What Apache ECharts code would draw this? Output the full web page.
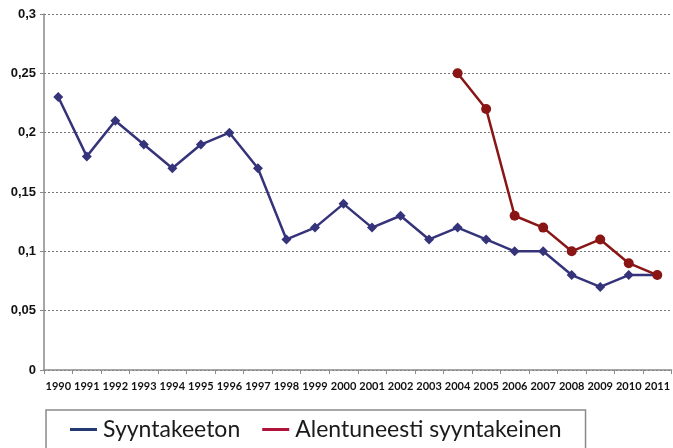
<!DOCTYPE html>
<html><head><meta charset="utf-8">
<script src="https://cdn.jsdelivr.net/npm/echarts@6/dist/echarts.min.js"></script>
<style>html,body{margin:0;padding:0;background:#fff}#c{width:673px;height:448px}</style>
</head><body><div id="c"></div>
<script>
const years = ['1990','1991','1992','1993','1994','1995','1996','1997','1998','1999','2000','2001','2002','2003','2004','2005','2006','2007','2008','2009','2010','2011'];
const syyntakeeton = [0.23,0.18,0.21,0.19,0.17,0.19,0.20,0.17,0.11,0.12,0.14,0.12,0.13,0.11,0.12,0.11,0.10,0.10,0.08,0.07,0.08,0.08];
const alentuneesti = [null,null,null,null,null,null,null,null,null,null,null,null,null,null,0.25,0.22,0.13,0.12,0.10,0.11,0.09,0.08];
const yTicks = [0,0.05,0.1,0.15,0.2,0.25,0.3];
const seriesNames = ['Syyntakeeton','Alentuneesti syyntakeinen'];

const chart = echarts.init(document.getElementById('c'));
chart.setOption({
  animation:false,
  grid:{left:44,right:0,top:14,bottom:78},
  legend:{
    left:46, top:410, orient:'horizontal',
    backgroundColor:'#fff',
    borderColor:'#8a8a8a', borderWidth:1.5,
    padding:[8,24,20,24],
    itemGap:22, itemWidth:27, itemHeight:3,
    icon:'rect',
    textStyle:{fontFamily:'Lato', fontSize:23, color:'#1a1a1a', padding:[0,0,0,1]},
    data:[
      {name:seriesNames[0], itemStyle:{color:'#223a70'}},
      {name:seriesNames[1], itemStyle:{color:'#b0123a'}}
    ]
  },
  xAxis:{
    type:'category', data:years, boundaryGap:true,
    axisLine:{lineStyle:{color:'#8a8a8a',width:1.5}},
    axisTick:{show:true,length:4,lineStyle:{color:'#8a8a8a'}},
    axisLabel:{fontFamily:'Lato',fontWeight:'bold',fontSize:11,color:'#111',margin:11,interval:0},
    splitLine:{show:false}
  },
  yAxis:{
    type:'value', min:0, max:0.3, interval:0.05,
    axisLine:{show:true,lineStyle:{color:'#8a8a8a',width:1.5}},
    axisTick:{show:true,length:4,lineStyle:{color:'#8a8a8a'}},
    axisLabel:{fontFamily:'Liberation Sans',fontWeight:'bold',fontSize:13,color:'#111',margin:8,
      formatter:function(v){ if(!yTicks.some(t=>Math.abs(t-v)<1e-9)) return ''; return v===0?'0':String(+v.toFixed(2)).replace('.',','); }},
    splitLine:{show:true,lineStyle:{color:'#777',type:[2,2],width:1}}
  },
  series:[
    {name:seriesNames[0], type:'line', data:syyntakeeton, symbol:'diamond', symbolSize:10,
      lineStyle:{color:'#35337a',width:2.5}, itemStyle:{color:'#35337a'}},
    {name:seriesNames[1], type:'line', data:alentuneesti, symbol:'circle', symbolSize:10,
      lineStyle:{color:'#8a1515',width:2.5}, itemStyle:{color:'#8a1515'}}
  ]
});
</script></body></html>
